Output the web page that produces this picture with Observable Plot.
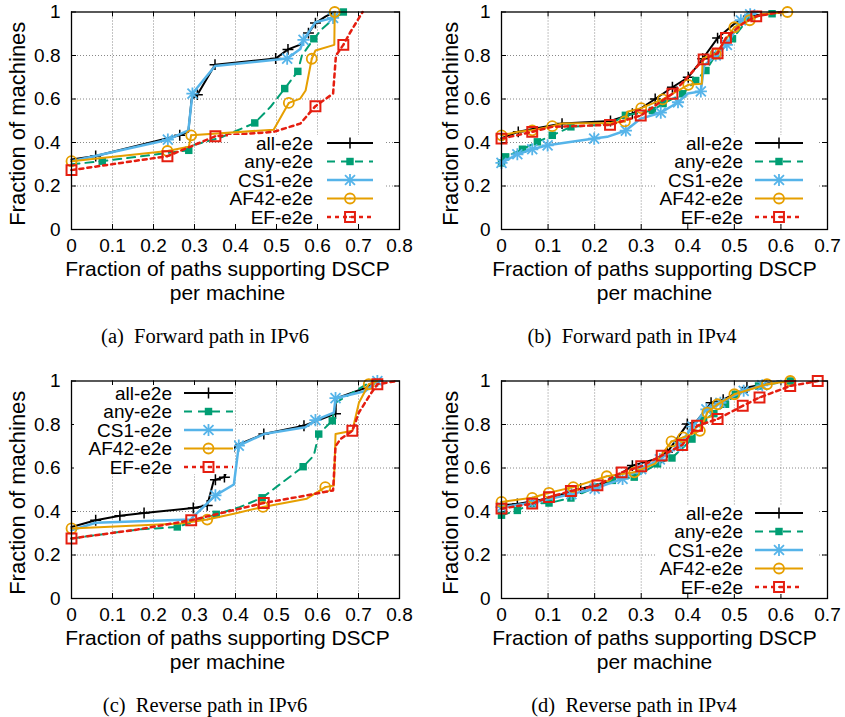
<!DOCTYPE html>
<html><head><meta charset="utf-8">
<script src="https://cdn.jsdelivr.net/npm/d3@7"></script>
<script src="https://cdn.jsdelivr.net/npm/@observablehq/plot@0.6"></script>
<style>
body{margin:0;background:#fff;}
#fig{position:relative;width:845px;height:717px;background:#fff;overflow:hidden;font-family:"Liberation Sans",Arial,sans-serif;}
.panel{position:absolute;}
.cap{position:absolute;font-family:"Liberation Serif","Times New Roman",serif;font-size:20.5px;line-height:24px;white-space:pre;transform:translateX(-50%);color:#000;}
</style></head><body><div id="fig"></div>
<script>
// ---------- data ----------
const seriesNames = ["all-e2e","any-e2e","CS1-e2e","AF42-e2e","EF-e2e"];
const yTicks = [0,0.2,0.4,0.6,0.8,1];
const yTickLabels = ["0","0.2","0.4","0.6","0.8","1"];
const xTicksV6 = [0,0.1,0.2,0.3,0.4,0.5,0.6,0.7,0.8];
const xTickLabelsV6 = ["0","0.1","0.2","0.3","0.4","0.5","0.6","0.7","0.8"];
const xTicksV4 = [0,0.1,0.2,0.3,0.4,0.5,0.6,0.7];
const xTickLabelsV4 = ["0","0.1","0.2","0.3","0.4","0.5","0.6","0.7"];
const yLabel = "Fraction of machines";
const xLabelLines = ["Fraction of paths supporting DSCP","per machine"];
const captions = ["(a)  Forward path in IPv6","(b)  Forward path in IPv4","(c)  Reverse path in IPv6","(d)  Reverse path in IPv4"];

// each point: [x, y, marker]
// (a) Forward path in IPv6
const fwd6_all = [[0,0.322,0],[0.059,0.338,1],[0.264,0.433,1],[0.285,0.45,0],[0.293,0.6,0],[0.307,0.62,1],[0.35,0.758,1],[0.498,0.786,1],[0.528,0.828,1],[0.558,0.85,0],[0.578,0.903,1],[0.595,0.949,1],[0.62,0.98,0],[0.642,1,0]];
const fwd6_any = [[0,0.30,0],[0.075,0.314,1],[0.286,0.364,1],[0.30,0.39,0],[0.36,0.42,0],[0.447,0.49,1],[0.485,0.563,0],[0.52,0.648,1],[0.552,0.727,1],[0.562,0.80,0],[0.591,0.877,1],[0.61,0.92,0],[0.64,0.97,0],[0.663,1,1]];
const fwd6_cs1 = [[0,0.314,0],[0.235,0.413,1],[0.285,0.456,0],[0.295,0.625,1],[0.35,0.752,0],[0.526,0.786,1],[0.558,0.83,0],[0.566,0.872,1],[0.595,0.953,0],[0.638,0.973,1],[0.642,1,0]];
const fwd6_af42 = [[0,0.314,1],[0.234,0.361,1],[0.286,0.38,0],[0.292,0.433,1],[0.493,0.459,0],[0.53,0.582,1],[0.558,0.602,0],[0.571,0.639,0],[0.586,0.785,1],[0.595,0.823,0],[0.641,0.849,0],[0.642,1,1]];
const fwd6_ef = [[0,0.273,1],[0.234,0.337,1],[0.351,0.429,1],[0.493,0.449,0],[0.558,0.487,0],[0.595,0.567,1],[0.638,0.625,0],[0.645,0.80,0],[0.663,0.849,1],[0.68,0.907,0],[0.71,1,0]];
// (b) Forward path in IPv4
const fwd4_all = [[0,0.42,0],[0.036,0.449,1],[0.13,0.487,1],[0.234,0.499,1],[0.281,0.532,1],[0.33,0.6,1],[0.367,0.654,1],[0.401,0.7,1],[0.432,0.785,1],[0.464,0.88,1],[0.5,0.946,0],[0.53,0.98,1],[0.6,1,0]];
const fwd4_any = [[0,0.306,1],[0.009,0.334,1],[0.045,0.369,1],[0.077,0.403,1],[0.109,0.433,1],[0.149,0.472,1],[0.234,0.485,0],[0.266,0.525,1],[0.324,0.547,1],[0.347,0.579,1],[0.389,0.624,1],[0.417,0.685,1],[0.439,0.731,1],[0.459,0.8,1],[0.496,0.877,1],[0.533,0.977,1],[0.581,0.992,1],[0.61,1,0]];
const fwd4_cs1 = [[0,0.306,1],[0.034,0.346,1],[0.066,0.369,1],[0.099,0.387,1],[0.199,0.418,1],[0.227,0.426,0],[0.267,0.455,1],[0.299,0.51,0],[0.342,0.537,1],[0.379,0.585,1],[0.4,0.625,0],[0.428,0.635,1],[0.435,0.754,0],[0.46,0.8,1],[0.484,0.849,1],[0.514,0.962,1],[0.534,0.989,1],[0.55,1,0]];
const fwd4_af42 = [[0,0.433,1],[0.036,0.449,0],[0.066,0.456,1],[0.109,0.475,1],[0.13,0.487,0],[0.234,0.49,0],[0.265,0.497,1],[0.27,0.541,0],[0.3,0.558,1],[0.346,0.598,1],[0.401,0.665,1],[0.43,0.67,0],[0.432,0.786,0],[0.46,0.808,1],[0.5,0.93,1],[0.533,0.962,1],[0.56,0.99,0],[0.614,1,1]];
const fwd4_ef = [[0,0.418,1],[0.066,0.449,1],[0.109,0.472,0],[0.233,0.481,1],[0.299,0.524,1],[0.367,0.624,1],[0.434,0.782,1],[0.464,0.81,1],[0.482,0.881,1],[0.52,0.95,0],[0.547,0.98,1],[0.6,1,0]];
// (c) Reverse path in IPv6
const rev6_all = [[0,0.329,0],[0.059,0.36,1],[0.118,0.38,1],[0.177,0.393,1],[0.297,0.416,1],[0.331,0.428,1],[0.347,0.543,0],[0.351,0.546,1],[0.373,0.558,1],[0.40,0.703,0],[0.469,0.756,1],[0.567,0.794,1],[0.644,0.85,1],[0.645,0.92,0],[0.72,0.97,0],[0.746,1,0]];
const rev6_any = [[0,0.276,0],[0.161,0.317,0],[0.258,0.329,1],[0.353,0.387,1],[0.41,0.42,0],[0.465,0.463,1],[0.565,0.606,1],[0.591,0.657,0],[0.603,0.756,1],[0.636,0.817,1],[0.644,0.9,0],[0.72,0.985,0],[0.746,1,0]];
const rev6_cs1 = [[0,0.314,0],[0.059,0.348,0],[0.29,0.363,0],[0.351,0.474,1],[0.396,0.524,0],[0.408,0.703,1],[0.469,0.756,0],[0.57,0.787,0],[0.595,0.82,1],[0.64,0.855,0],[0.644,0.921,1],[0.717,0.954,0],[0.746,1,1]];
const rev6_af42 = [[0,0.322,1],[0.266,0.345,0],[0.331,0.363,1],[0.396,0.39,0],[0.467,0.421,1],[0.574,0.459,0],[0.619,0.512,1],[0.64,0.52,0],[0.644,0.756,0],[0.685,0.771,0],[0.701,0.9,0],[0.725,0.985,1],[0.746,1,0]];
const rev6_ef = [[0,0.276,1],[0.161,0.317,0],[0.292,0.36,1],[0.469,0.439,1],[0.574,0.474,0],[0.638,0.497,0],[0.644,0.70,0],[0.656,0.733,0],[0.685,0.771,1],[0.701,0.855,0],[0.729,0.939,0],[0.746,0.985,1],[0.794,1,0]];
// (d) Reverse path in IPv4
const rev4_all = [[0,0.428,0],[0.034,0.435,1],[0.1,0.46,0],[0.17,0.505,1],[0.235,0.54,0],[0.281,0.611,1],[0.33,0.64,0],[0.356,0.672,1],[0.399,0.802,1],[0.417,0.81,0],[0.45,0.9,1],[0.476,0.914,1],[0.527,0.97,1],[0.6,1,0]];
const rev4_any = [[0,0.383,1],[0.034,0.405,1],[0.066,0.436,1],[0.102,0.439,1],[0.149,0.462,1],[0.202,0.512,1],[0.238,0.543,1],[0.285,0.558,1],[0.335,0.619,1],[0.366,0.646,1],[0.409,0.733,1],[0.434,0.82,1],[0.456,0.85,1],[0.481,0.893,1],[0.502,0.939,1],[0.552,0.977,1],[0.62,1,1]];
const rev4_cs1 = [[0,0.42,1],[0.066,0.44,1],[0.15,0.48,1],[0.2,0.505,1],[0.26,0.55,1],[0.3,0.595,1],[0.34,0.64,1],[0.38,0.7,1],[0.41,0.79,1],[0.44,0.87,1],[0.47,0.9,1],[0.52,0.955,1],[0.56,0.98,1],[0.6,1,0]];
const rev4_af42 = [[0,0.444,1],[0.066,0.463,1],[0.102,0.486,1],[0.154,0.512,1],[0.226,0.562,1],[0.285,0.58,1],[0.33,0.62,0],[0.365,0.722,1],[0.39,0.741,1],[0.426,0.771,1],[0.442,0.855,1],[0.464,0.893,1],[0.5,0.939,1],[0.57,0.985,1],[0.62,1,1]];
const rev4_ef = [[0,0.413,1],[0.066,0.436,1],[0.102,0.466,1],[0.149,0.494,1],[0.206,0.52,1],[0.258,0.58,1],[0.3,0.608,1],[0.344,0.657,1],[0.388,0.706,1],[0.42,0.794,1],[0.464,0.825,1],[0.518,0.886,1],[0.554,0.924,1],[0.62,0.977,1],[0.679,1,1]];

// ---------- styles ----------
const RED="#e51e10", ORANGE="#e69f00", BLUE="#56b4e9", GREEN="#009e73";
const seriesStyles = [
  {color:"#000", width:2, dash:null, sym:[{symbol:"plus", r:3.6, fill:"none", stroke:"#000", strokeWidth:1.5}]},
  {color:GREEN, width:2, dash:"8,6", sym:[{symbol:"square", r:4.2, fill:GREEN, stroke:"none"}]},
  {color:BLUE, width:2.5, dash:null, sym:[{symbol:"plus", r:4, fill:"none", stroke:BLUE, strokeWidth:1.8},{symbol:"times", r:4.6, fill:"none", stroke:BLUE, strokeWidth:1.8}]},
  {color:ORANGE, width:2, dash:null, sym:[{symbol:"circle", r:5, fill:"none", stroke:ORANGE, strokeWidth:1.8},{symbol:"circle", r:1, fill:ORANGE, stroke:"none"}]},
  {color:RED, width:2.5, dash:"4,4", sym:[{symbol:"square2", r:6.3, fill:"none", stroke:RED, strokeWidth:2},{symbol:"circle", r:1, fill:RED, stroke:"none"}]}
];
const symMap = {plus:d3.symbolPlus, times:d3.symbolTimes, square:d3.symbolSquare, square2:d3.symbolSquare2, circle:d3.symbolCircle};

const panels = [
  {series:[fwd6_all,fwd6_any,fwd6_cs1,fwd6_af42,fwd6_ef], xMax:0.8, xTicks:xTicksV6, xLabels:xTickLabelsV6,
   left:0, top:0, ml:71, mr:21, ylDx:-54, xlDx:-8, cap:captions[0], capX:205, capY:324,
   lg:{textRight:313, x1:327, x2:373, row0:143, boxL:228, boxR:385}},
  {series:[fwd4_all,fwd4_any,fwd4_cs1,fwd4_af42,fwd4_ef], xMax:0.7, xTicks:xTicksV4, xLabels:xTickLabelsV4,
   left:425, top:0, ml:76, mr:18, ylDx:-51, xlDx:-10, cap:captions[1], capX:632, capY:324,
   lg:{textRight:318, x1:330, x2:378, row0:143, boxL:232, boxR:392}},
  {series:[rev6_all,rev6_any,rev6_cs1,rev6_af42,rev6_ef], xMax:0.8, xTicks:xTicksV6, xLabels:xTickLabelsV6,
   left:0, top:369, ml:71, mr:21, ylDx:-54, xlDx:-8, cap:captions[2], capX:205, capY:693,
   lg:{textRight:172, x1:184, x2:233, row0:24, boxL:74, boxR:234}},
  {series:[rev4_all,rev4_any,rev4_cs1,rev4_af42,rev4_ef], xMax:0.7, xTicks:xTicksV4, xLabels:xTickLabelsV4,
   left:425, top:369, ml:76, mr:18, ylDx:-51, xlDx:-10, cap:captions[3], capX:634, capY:693,
   lg:{textRight:318, x1:330, x2:378, row0:144, boxL:232, boxR:392}}
];

const W = 420, H = 316, MT = 11.5, MB = 87;
const fig = document.getElementById("fig");

panels.forEach(p => {
  const fw = W - p.ml - p.mr, fh = H - MT - MB;
  const marks = [];
  const xg = p.xTicks.filter(t => t > 0 && t < p.xMax - 1e-9);
  const yg = yTicks.filter(t => t > 0 && t < 1);
  marks.push(Plot.ruleX(xg, {x: d => d, stroke: "#888", strokeWidth: 1, strokeDasharray: "1,2"}));
  marks.push(Plot.ruleY(yg, {y: d => d, stroke: "#888", strokeWidth: 1, strokeDasharray: "1,2"}));
  marks.push(Plot.tickX(p.xTicks, {x: d => d, insetTop: fh - 5, stroke: "#000", strokeWidth: 1}));
  marks.push(Plot.tickX(p.xTicks, {x: d => d, insetBottom: fh - 5, stroke: "#000", strokeWidth: 1}));
  marks.push(Plot.tickY(yTicks, {y: d => d, insetRight: fw - 5, stroke: "#000", strokeWidth: 1}));
  marks.push(Plot.tickY(yTicks, {y: d => d, insetLeft: fw - 5, stroke: "#000", strokeWidth: 1}));
  p.series.forEach((s, k) => {
    const st = seriesStyles[k];
    const rows = s.map(([x, y, m]) => ({x, y, m}));
    marks.push(Plot.line(rows, {x: "x", y: "y", stroke: st.color, strokeWidth: st.width, strokeDasharray: st.dash, strokeLinejoin: "round"}));
    const mk = rows.filter(d => d.m);
    st.sym.forEach(o => marks.push(Plot.dot(mk, {x: "x", y: "y", ...o})));
  });
  marks.push(Plot.frame({stroke: "#000", strokeWidth: 1.3}));
  marks.push(Plot.text(p.xTicks, {x: d => d, text: (d, i) => p.xLabels[i], frameAnchor: "bottom", lineAnchor: "top", dy: 9, fontSize: 19, fill: "#000"}));
  marks.push(Plot.text(yTicks, {y: d => d, text: (d, i) => yTickLabels[i], frameAnchor: "left", textAnchor: "end", dx: -11, fontSize: 19, fill: "#000"}));
  marks.push(Plot.text([yLabel], {text: d => d, frameAnchor: "left", rotate: -90, dx: p.ylDx, dy: 3, fontSize: 22, textAnchor: "middle", fill: "#000"}));
  marks.push(Plot.text([xLabelLines[0]], {text: d => d, frameAnchor: "bottom", dx: p.xlDx, dy: 46, fontSize: 21, fill: "#000"}));
  marks.push(Plot.text([xLabelLines[1]], {text: d => d, frameAnchor: "bottom", dx: p.xlDx, dy: 70, fontSize: 21, fill: "#000"}));

  const chart = Plot.plot({
    width: W, height: H, marginLeft: p.ml, marginRight: p.mr, marginTop: MT, marginBottom: MB,
    x: {domain: [0, p.xMax], axis: null}, y: {domain: [0, 1], axis: null},
    style: {fontFamily: '"Liberation Sans", Arial, sans-serif', background: "transparent", overflow: "visible"},
    marks
  });

  // legend (key) drawn on top
  const svg = d3.select(chart);
  const g = svg.append("g");
  const lg = p.lg, rowH = 18.5;
  g.append("rect").attr("x", lg.boxL).attr("y", lg.row0 - 8).attr("width", lg.boxR - lg.boxL)
    .attr("height", rowH * 4 + 15).attr("fill", "#fff");
  seriesNames.forEach((name, k) => {
    const st = seriesStyles[k];
    const y = lg.row0 + k * rowH;
    g.append("text").attr("x", lg.textRight).attr("y", y).attr("dy", "0.35em").attr("text-anchor", "end")
      .attr("font-size", 19).attr("font-family", '"Liberation Sans", Arial, sans-serif').attr("fill", "#000").text(name);
    g.append("line").attr("x1", lg.x1).attr("x2", lg.x2).attr("y1", y).attr("y2", y)
      .attr("stroke", st.color).attr("stroke-width", st.width).attr("stroke-dasharray", st.dash);
    const cx = (lg.x1 + lg.x2) / 2;
    st.sym.forEach(o => {
      g.append("path").attr("transform", `translate(${cx},${y})`)
        .attr("d", d3.symbol(symMap[o.symbol], Math.PI * o.r * o.r)())
        .attr("fill", o.fill).attr("stroke", o.stroke).attr("stroke-width", o.strokeWidth || null);
    });
  });

  const div = document.createElement("div");
  div.className = "panel";
  div.style.left = p.left + "px";
  div.style.top = p.top + "px";
  div.appendChild(chart);
  fig.appendChild(div);

  const cap = document.createElement("div");
  cap.className = "cap";
  cap.style.left = p.capX + "px";
  cap.style.top = p.capY + "px";
  cap.textContent = p.cap;
  fig.appendChild(cap);
});
</script></body></html>
